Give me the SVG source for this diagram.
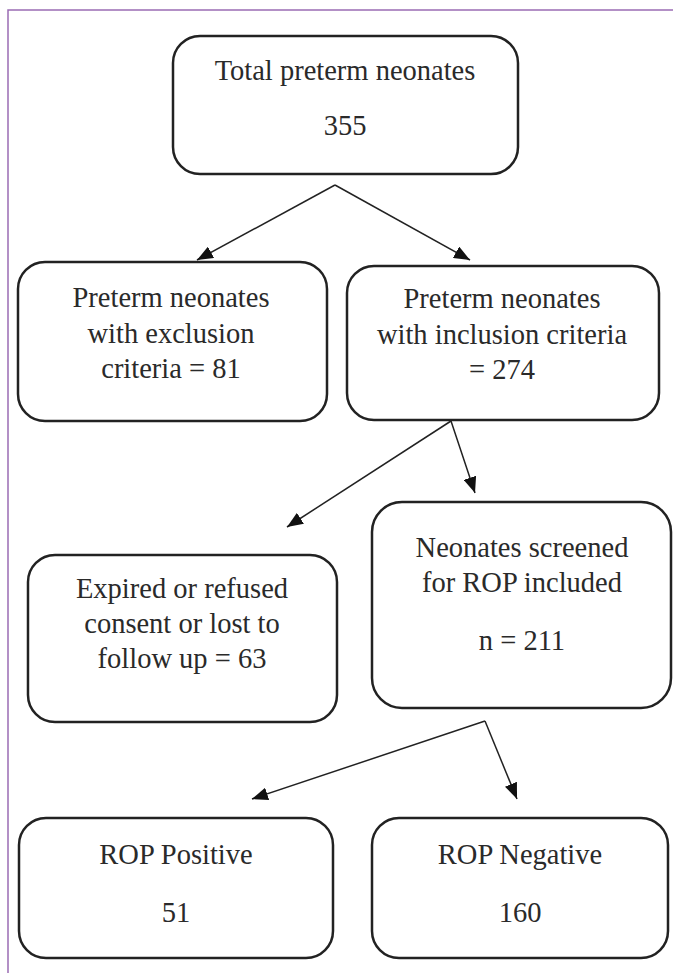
<svg xmlns="http://www.w3.org/2000/svg" width="673" height="973" viewBox="0 0 673 973">
<style>
.box{fill:#fff;stroke:#222;stroke-width:2.5}
.t{font-family:'Liberation Serif','Times New Roman',serif;font-size:28.5px;fill:#2a2a2a;text-anchor:middle}
.c{stroke:#222;stroke-width:1.5;fill:none;marker-end:url(#ah)}
</style>
<defs>
<marker id="ah" viewBox="0 0 16 13" refX="16" refY="6.5" markerWidth="16" markerHeight="13" markerUnits="userSpaceOnUse" orient="auto">
<path d="M0,0 L16,6.5 L0,13 z" fill="#111"/>
</marker>
</defs>
<rect width="673" height="973" fill="#fff"/>
<path d="M8,973 V10 H673" fill="none" stroke="#9a6cb4" stroke-width="1.5"/>
<g id="n1"><rect class="box" x="173" y="36" width="345" height="138" rx="27"/>
<text class="t" x="345" y="80">Total preterm neonates</text>
<text class="t" x="345" y="135">355</text></g>
<g id="n2"><rect class="box" x="18" y="262" width="309" height="159" rx="27"/>
<text class="t" x="171" y="307">Preterm neonates</text>
<text class="t" x="171" y="343">with exclusion</text>
<text class="t" x="171" y="378">criteria = 81</text></g>
<g id="n3"><rect class="box" x="347" y="266" width="312" height="154" rx="27"/>
<text class="t" x="502" y="308">Preterm neonates</text>
<text class="t" x="502" y="344">with inclusion criteria</text>
<text class="t" x="502" y="379">= 274</text></g>
<g id="n4"><rect class="box" x="28" y="555" width="309" height="167" rx="27"/>
<text class="t" x="182" y="598">Expired or refused</text>
<text class="t" x="182" y="633">consent or lost to</text>
<text class="t" x="182" y="668">follow up = 63</text></g>
<g id="n5"><rect class="box" x="372" y="502" width="299" height="206" rx="30"/>
<text class="t" x="522" y="557">Neonates screened</text>
<text class="t" x="522" y="592">for ROP included</text>
<text class="t" x="522" y="650">n = 211</text></g>
<g id="n6"><rect class="box" x="19" y="818" width="314" height="140" rx="27"/>
<text class="t" x="176" y="864">ROP Positive</text>
<text class="t" x="176" y="922">51</text></g>
<g id="n7"><rect class="box" x="372" y="818" width="296" height="140" rx="27"/>
<text class="t" x="520" y="864">ROP Negative</text>
<text class="t" x="520" y="922">160</text></g>
<g id="connectors">
<path class="c" d="M335,185 L197,260"/>
<path class="c" d="M335,185 L470,260"/>
<path class="c" d="M451,421 L287,527"/>
<path class="c" d="M451,421 L475,493"/>
<path class="c" d="M485,721 L252,799"/>
<path class="c" d="M485,721 L517,799"/>
</g>
</svg>
